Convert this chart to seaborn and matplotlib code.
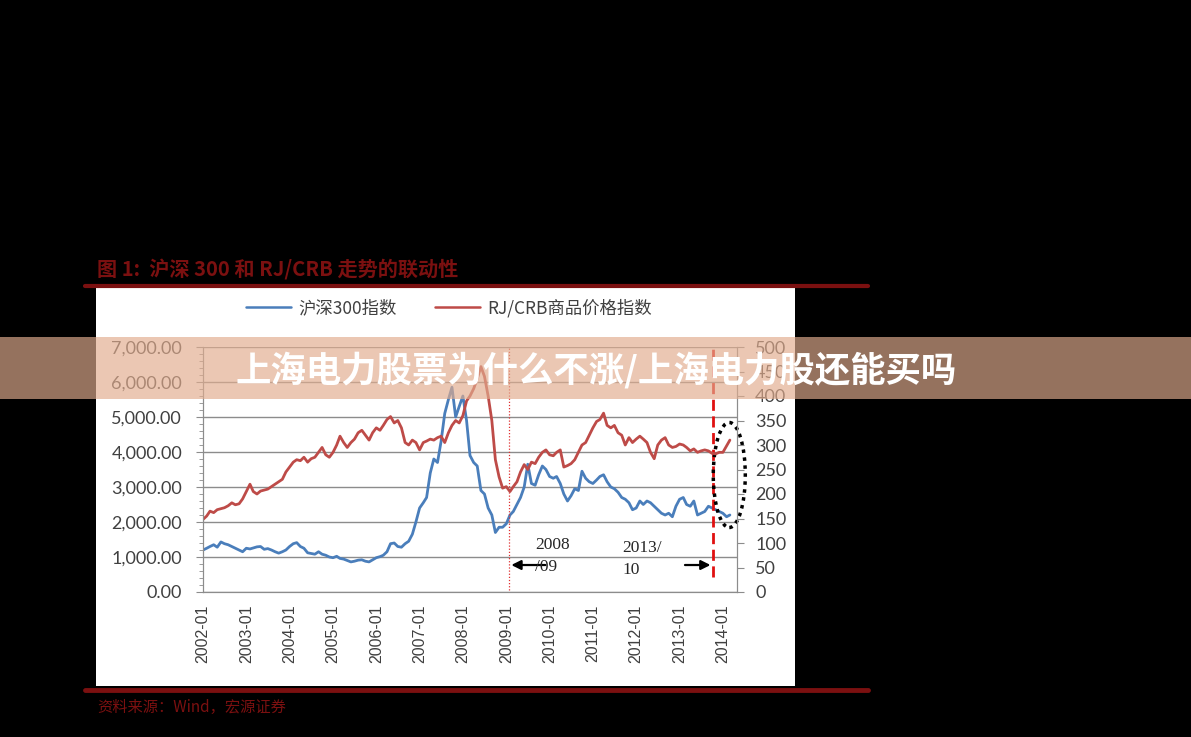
import numpy as np
import pandas as pd
import seaborn as sns
import matplotlib.pyplot as plt
import matplotlib.dates as mdates
from matplotlib.patches import Rectangle, Ellipse
from matplotlib.lines import Line2D
from matplotlib.ticker import MultipleLocator, StrMethodFormatter

# monthly readings, 2002-01 .. 2014-03
months = pd.date_range('2002-01-01', periods=147, freq='MS')

csi300 = [
    1200, 1250, 1300, 1350, 1280, 1430, 1380, 1350, 1300, 1250, 1200, 1150,
    1250, 1230, 1260, 1290, 1300, 1220, 1240, 1200, 1150, 1110, 1150, 1200,
    1300, 1380, 1410, 1300, 1250, 1120, 1100, 1080, 1150, 1080, 1050, 1000,
    980, 1020, 960, 940, 900, 860, 880, 910, 920, 880, 860, 920,
    980, 1010, 1050, 1150, 1380, 1400, 1300, 1280, 1380, 1450, 1650, 2000,
    2400, 2550, 2700, 3400, 3800, 3700, 4300, 5100, 5500, 5850, 5000, 5300,
    5600, 4900, 3900, 3700, 3600, 2900, 2800, 2400, 2200, 1700, 1850, 1850,
    1950, 2200, 2300, 2500, 2700, 3000, 3650, 3100, 3050, 3350, 3600, 3500,
    3300, 3250, 3300, 3100, 2800, 2600, 2750, 2950, 2900, 3450, 3250, 3150,
    3100, 3200, 3300, 3350, 3150, 3000, 2950, 2850, 2700, 2650, 2550, 2350,
    2400, 2600, 2500, 2600, 2550, 2450, 2350, 2250, 2200, 2250, 2150, 2450,
    2650, 2700, 2500, 2450, 2600, 2200, 2250, 2300, 2450, 2400, 2350, 2300,
    2250, 2150, 2200,
]

rjcrb = [
    148, 155, 165, 162, 168, 170, 172, 176, 182, 178, 180, 190,
    205, 220, 205, 200, 206, 208, 210, 215, 220, 225, 230, 245,
    255, 265, 270, 268, 275, 265, 272, 275, 285, 295, 280, 275,
    285, 300, 318, 305, 295, 305, 312, 325, 330, 320, 310, 325,
    335, 330, 340, 352, 358, 345, 350, 335, 305, 300, 310, 305,
    290, 305, 308, 312, 310, 315, 318, 305, 325, 340, 350, 345,
    360, 390, 400, 415, 435, 460, 440, 400, 350, 270, 235, 212,
    215, 205, 215, 225, 245, 260, 250, 265, 262, 275, 285, 290,
    280, 278, 285, 290, 255, 258, 262, 270, 285, 300, 305, 320,
    335, 348, 352, 365, 340, 335, 340, 325, 320, 300, 315, 305,
    312, 318, 312, 305, 285, 272, 300, 310, 315, 300, 295, 297,
    302, 300, 295, 288, 292, 285, 288, 290, 288, 283, 282, 285,
    285, 298, 310,
]

series_names = ['沪深300指数', 'RJ/CRB商品价格指数']
title = '图 1:  沪深 300 和 RJ/CRB 走势的联动性'
source = '资料来源：Wind，宏源证券'
banner = '上海电力股票为什么不涨/上海电力股还能买吗'

df = pd.DataFrame({'date': months, 'csi300': csi300, 'rjcrb': rjcrb})

sns.set_style('white')
plt.rcParams['font.family'] = ['Noto Sans CJK SC', 'DejaVu Sans']

BLUE = '#4a7ebb'
RED = '#be4b48'
DARKRED = '#7b1010'
GRAY = '#8c8c8c'
TXT = '#404040'

W, H = 1191, 737
fi = plt.figure(figsize=(W / 100, H / 100), dpi=100, facecolor='black')


def fx(px):
    return px / W


def fy(py):
    return 1 - py / H


# white report panel
fi.add_artist(Rectangle((fx(96), fy(686)), fx(795) - fx(96), fy(288) - fy(686),
                        transform=fi.transFigure, facecolor='white',
                        edgecolor='none', zorder=-1))
# dark red rules
for yy, lw in [(286, 3), (690, 3.5)]:
    fi.add_artist(Line2D([fx(85), fx(868)], [fy(yy), fy(yy)], transform=fi.transFigure,
                         color=DARKRED, lw=lw))

fi.text(fx(97), fy(270), title, color=DARKRED, fontsize=14.5, fontweight='bold',
        va='center', ha='left')
fi.text(fx(97), fy(707), source, color=DARKRED, fontsize=11, style='italic',
        va='center', ha='left')

ax = fi.add_axes([fx(203), fy(592), fx(737) - fx(203), fy(347) - fy(592)])
ax.set_facecolor('none')
ax2 = ax.twinx()

sns.lineplot(data=df, x='date', y='csi300', ax=ax, color=BLUE, lw=2)
sns.lineplot(data=df, x='date', y='rjcrb', ax=ax2, color=RED, lw=2)

ax.set_xlim(pd.Timestamp('2002-01-01'), pd.Timestamp('2014-04-30'))
ax.set_ylim(0, 7000)
ax2.set_ylim(0, 500)

ax.xaxis.set_major_locator(mdates.YearLocator(month=1))
ax.xaxis.set_major_formatter(mdates.DateFormatter('%Y-%m'))
ax.yaxis.set_major_locator(MultipleLocator(1000))
ax.yaxis.set_minor_locator(MultipleLocator(200))
ax.yaxis.set_major_formatter(StrMethodFormatter('{x:,.2f}'))
ax2.yaxis.set_major_locator(MultipleLocator(50))

ax.grid(axis='y', color=GRAY, lw=1)
ax.grid(axis='x', visible=False)
ax2.grid(False)

for a in (ax, ax2):
    a.set_xlabel('')
    a.set_ylabel('')
    for s in a.spines.values():
        s.set_color(GRAY)
    a.spines['top'].set_visible(False)

ax.tick_params(axis='x', which='major', direction='out', length=5, color=GRAY,
               labelsize=11.5, labelcolor=TXT, labelrotation=90, pad=4)
for lab in ax.get_xticklabels():
    lab.set_fontfamily('Liberation Sans')
ax.tick_params(axis='y', which='major', direction='out', length=5, color=GRAY,
               labelsize=13, labelcolor=TXT, left=True, pad=10)
ax.tick_params(axis='y', which='minor', direction='out', length=3, color=GRAY, left=True)
ax2.tick_params(axis='y', direction='out', length=5, color=GRAY, labelsize=13,
                labelcolor=TXT, right=True, pad=8)
for lab in ax.get_yticklabels() + ax2.get_yticklabels():
    lab.set_fontfamily('Lato')

# event markers
ax.axvline(pd.Timestamp('2009-01-20'), color='#e03030', lw=0.9, ls=(0, (1, 1.5)), ymin=0.01)
ax.axvline(pd.Timestamp('2013-10-12'), color='#e01010', lw=2, ls=(0, (4, 2)), ymin=0.06)

arrow = dict(arrowstyle='-|>', color='black', lw=1.6, mutation_scale=14)
ax.annotate('', xy=(pd.Timestamp('2009-01-20'), 771), xytext=(pd.Timestamp('2009-12-20'), 771),
            arrowprops=arrow)
ax.annotate('', xy=(pd.Timestamp('2013-10-12'), 771), xytext=(pd.Timestamp('2013-01-23'), 771),
            arrowprops=arrow)
ax.text(pd.Timestamp('2009-09-01'), 1029, '2008\n/09', fontsize=12.5, family='Liberation Serif',
        ha='left', va='center', linespacing=1.45)
ax.text(pd.Timestamp('2011-09-04'), 943, '2013/\n10', fontsize=12.5, family='Liberation Serif',
        ha='left', va='center', linespacing=1.45)

ell = Ellipse((mdates.date2num(pd.Timestamp('2014-02-24')), 3343), width=270, height=3000,
              fill=False, edgecolor='black', lw=2.5, ls=(0, (1, 1.3)), clip_on=False, zorder=5)
ax.add_patch(ell)

handles = [Line2D([], [], color=BLUE, lw=1.8), Line2D([], [], color=RED, lw=1.8)]
fi.legend(handles, series_names, loc='center', bbox_to_anchor=(fx(449), fy(308)),
          ncol=2, frameon=False, fontsize=12.5, handlelength=2.6, columnspacing=2.2,
          handletextpad=0.4, labelcolor=TXT)

# overlay banner
fi.add_artist(Rectangle((0, fy(399)), 1, fy(337) - fy(399), transform=fi.transFigure,
                        facecolor=(225 / 255, 172 / 255, 142 / 255), alpha=0.667,
                        edgecolor='none', zorder=10))
fi.text(fx(596), fy(370), banner, color='white', fontsize=25.5, fontweight='bold',
        ha='center', va='center', zorder=11)

fi.savefig('out.png', dpi=100, facecolor='black')
